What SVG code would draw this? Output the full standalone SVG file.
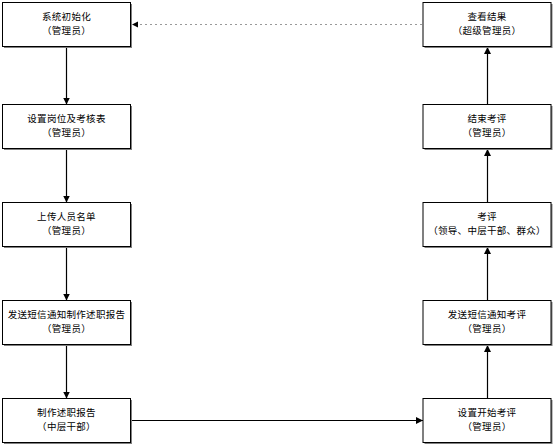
<svg xmlns="http://www.w3.org/2000/svg" width="554" height="445" viewBox="0 0 554 445">
<style>
.box{fill:#fff;stroke:#000;stroke-width:1}
.sh{fill:#808080}
.t{font-family:"Noto Sans CJK SC","Liberation Sans",sans-serif;font-size:9.5px;letter-spacing:0.3px;text-anchor:middle;fill:#000}
.c{fill:none;stroke:#000;stroke-width:1.2}
.d{fill:none;stroke:#999;stroke-width:1;stroke-dasharray:2,3}
</style>
<defs>
<marker id="a" viewBox="0 0 10 10" refX="10" refY="5" markerWidth="7" markerHeight="7" orient="auto" markerUnits="userSpaceOnUse">
<path d="M0,0L10,5L0,10z" fill="#000"/>
</marker>
</defs>
<rect width="554" height="445" fill="#fff"/>
<g id="connectors">
<line class="c" x1="66.5" y1="46.5" x2="66.5" y2="104.5" marker-end="url(#a)"/>
<line class="c" x1="66.5" y1="148.5" x2="66.5" y2="202.5" marker-end="url(#a)"/>
<line class="c" x1="66.5" y1="246.5" x2="66.5" y2="300.5" marker-end="url(#a)"/>
<line class="c" x1="66.5" y1="344.5" x2="66.5" y2="398.5" marker-end="url(#a)"/>
<line class="c" x1="132" y1="420.5" x2="423" y2="420.5" marker-end="url(#a)"/>
<line class="c" x1="487.5" y1="398.5" x2="487.5" y2="345" marker-end="url(#a)"/>
<line class="c" x1="487.5" y1="300.5" x2="487.5" y2="247" marker-end="url(#a)"/>
<line class="c" x1="487.5" y1="202.5" x2="487.5" y2="149" marker-end="url(#a)"/>
<line class="c" x1="487.5" y1="104.5" x2="487.5" y2="47" marker-end="url(#a)"/>
<line class="d" x1="422" y1="24.5" x2="138" y2="24.5"/>
<path d="M138,21.5L132,24.5L138,27.5z" fill="#000"/>
</g>
<g id="n1"><rect class="sh" x="4" y="4" width="128" height="44"/><rect class="box" x="2.5" y="2.5" width="128" height="44"/><text class="t" x="66.5" y="20">系统初始化</text><text class="t" x="66.5" y="34">（管理员）</text></g>
<g id="n2"><rect class="sh" x="4" y="106" width="128" height="44"/><rect class="box" x="2.5" y="104.5" width="128" height="44"/><text class="t" x="66.5" y="122">设置岗位及考核表</text><text class="t" x="66.5" y="136">（管理员）</text></g>
<g id="n3"><rect class="sh" x="4" y="204" width="128" height="44"/><rect class="box" x="2.5" y="202.5" width="128" height="44"/><text class="t" x="66.5" y="220">上传人员名单</text><text class="t" x="66.5" y="234">（管理员）</text></g>
<g id="n4"><rect class="sh" x="4" y="302" width="128" height="44"/><rect class="box" x="2.5" y="300.5" width="128" height="44"/><text class="t" x="66.5" y="318">发送短信通知制作述职报告</text><text class="t" x="66.5" y="332">（管理员）</text></g>
<g id="n5"><rect class="sh" x="4" y="400" width="128" height="44"/><rect class="box" x="2.5" y="398.5" width="128" height="44"/><text class="t" x="66.5" y="416">制作述职报告</text><text class="t" x="66.5" y="430">（中层干部）</text></g>
<g id="n6"><rect class="sh" x="424.5" y="400" width="128" height="44"/><rect class="box" x="423" y="398.5" width="128" height="44"/><text class="t" x="487" y="416">设置开始考评</text><text class="t" x="487" y="430">（管理员）</text></g>
<g id="n7"><rect class="sh" x="424.5" y="302" width="128" height="44"/><rect class="box" x="423" y="300.5" width="128" height="44"/><text class="t" x="487" y="318">发送短信通知考评</text><text class="t" x="487" y="332">（管理员）</text></g>
<g id="n8"><rect class="sh" x="424.5" y="204" width="128" height="44"/><rect class="box" x="423" y="202.5" width="128" height="44"/><text class="t" x="487" y="220">考评</text><text class="t" x="487" y="234">（领导、中层干部、群众）</text></g>
<g id="n9"><rect class="sh" x="424.5" y="106" width="128" height="44"/><rect class="box" x="423" y="104.5" width="128" height="44"/><text class="t" x="487" y="122">结束考评</text><text class="t" x="487" y="136">（管理员）</text></g>
<g id="n10"><rect class="sh" x="424.5" y="4" width="128" height="44"/><rect class="box" x="423" y="2.5" width="128" height="44"/><text class="t" x="487" y="20">查看结果</text><text class="t" x="487" y="34">（超级管理员）</text></g>
</svg>
